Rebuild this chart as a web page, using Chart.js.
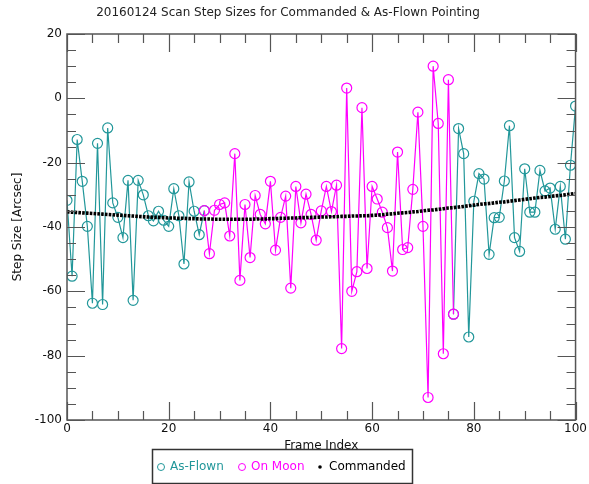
<!DOCTYPE html>
<html>
<head>
<meta charset="utf-8">
<script src="https://cdn.jsdelivr.net/npm/chart.js@4.4.1/dist/chart.umd.min.js"></script>
<style>
  html, body { margin: 0; padding: 0; background: #fff; }
</style>
</head>
<body>
<canvas id="canvas_steps" width="589" height="484"></canvas>
<script>
// frame index 0..100
const frames = Array.from({ length: 101 }, (_, i) => i);

// As-Flown, frames 0-27 and 76-100
const asFlownStartFrame = 0;
const asFlownStart = [-31.7, -55.3, -12.8, -25.8, -39.8, -63.7, -14.0, -64.1, -9.2, -32.5,
    -37.0, -43.3, -25.5, -62.8, -25.5, -30.0, -36.5, -38.1, -35.1, -37.9,
    -39.8, -28.1, -36.5, -51.5, -26.0, -35.1, -42.4, -34.9];
const asFlownEndFrame = 76;
const asFlownEnd = [-67.1, -9.4, -17.2, -74.2, -32.0, -23.4, -25.1, -48.5, -37.1, -37.0,
    -25.7, -8.5, -43.3, -47.6, -21.9, -35.4, -35.4, -22.4, -28.8, -27.9,
    -40.7, -27.4, -43.8, -20.8, -2.4];

// On Moon, frames 27-76
const onMoonFrame = 27;
const onMoon = [-34.9, -48.3, -34.8, -33.0, -32.5, -42.8, -17.2, -56.6, -33.0, -49.5,
    -30.2, -36.1, -39.0, -25.8, -47.2, -37.0, -30.4, -59.0, -27.4, -38.7,
    -29.8, -36.1, -44.1, -35.0, -27.4, -35.2, -27.0, -77.8, 3.2, -60.0,
    -53.9, -2.9, -52.9, -27.4, -31.3, -35.4, -40.2, -53.7, -16.7, -47.0,
    -46.4, -28.3, -4.3, -39.8, -93.0, 10.0, -7.8, -79.4, 5.8, -67.1];

// Commanded, one per frame
const commanded = [-35.3, -35.4, -35.5, -35.6, -35.7, -35.8, -35.9, -36.0, -36.1, -36.2,
    -36.3, -36.4, -36.5, -36.6, -36.7, -36.8, -36.9, -37.0, -37.0, -37.1,
    -37.2, -37.2, -37.3, -37.3, -37.4, -37.4, -37.5, -37.5, -37.5, -37.6,
    -37.6, -37.6, -37.6, -37.6, -37.6, -37.6, -37.6, -37.5, -37.5, -37.5,
    -37.4, -37.4, -37.3, -37.3, -37.2, -37.2, -37.1, -37.1, -37.0, -37.0,
    -36.9, -36.9, -36.8, -36.8, -36.7, -36.7, -36.6, -36.6, -36.5, -36.5,
    -36.4, -36.3, -36.2, -36.0, -35.9, -35.7, -35.6, -35.5, -35.3, -35.2,
    -35.0, -34.8, -34.7, -34.5, -34.3, -34.1, -34.0, -33.8, -33.6, -33.4,
    -33.2, -33.0, -32.8, -32.7, -32.5, -32.3, -32.2, -32.0, -31.8, -31.6,
    -31.4, -31.2, -31.0, -30.8, -30.7, -30.5, -30.3, -30.2, -30.0, -29.8, -29.6];

const yTicks = [-100, -80, -60, -40, -20, 0, 20];
const xTicks = [0, 20, 40, 60, 80, 100];

const teal = '#22979a';
const magenta = '#ff00ff';
const FONT = 'DejaVu Sans';

const toPoints = (start, vals) => vals.map((v, i) => ({ x: frames[start + i], y: v }));
const asFlownPts = toPoints(asFlownStartFrame, asFlownStart)
    .concat([{ x: 50, y: null }])
    .concat(toPoints(asFlownEndFrame, asFlownEnd));

// box, minor/major ticks on all four sides
const framePlugin = {
    id: 'frame',
    afterDraw(chart) {
        const { ctx, chartArea: a, scales: { x, y } } = chart;
        ctx.save();
        ctx.strokeStyle = '#555';
        ctx.lineWidth = 1.2;
        ctx.beginPath();
        for (let v = 0; v <= 100; v += 5) {
            const px = Math.round(x.getPixelForValue(v)) + 0.5;
            const len = v % 20 === 0 ? 18 : 9;
            ctx.moveTo(px, a.bottom); ctx.lineTo(px, a.bottom - len);
            ctx.moveTo(px, a.top); ctx.lineTo(px, a.top + len);
        }
        for (let v = -100; v <= 20; v += 5) {
            const py = Math.round(y.getPixelForValue(v)) + 0.5;
            const len = v % 20 === 0 ? 18 : 9;
            ctx.moveTo(a.left, py); ctx.lineTo(a.left + len, py);
            ctx.moveTo(a.right, py); ctx.lineTo(a.right - len, py);
        }
        ctx.stroke();
        ctx.lineWidth = 1.5;
        ctx.strokeRect(a.left, a.top, a.right - a.left, a.bottom - a.top);
        ctx.restore();
    }
};

// boxed legend under the axis title
const legendPlugin = {
    id: 'boxLegend',
    afterDraw(chart) {
        const ctx = chart.ctx;
        const items = [
            { label: 'As-Flown', color: teal, sym: 'ring', x: 161 },
            { label: 'On Moon', color: magenta, sym: 'ring', x: 242 },
            { label: 'Commanded', color: '#000', sym: 'dot', x: 320 }
        ];
        ctx.save();
        ctx.strokeStyle = '#333';
        ctx.lineWidth = 1.5;
        ctx.strokeRect(152.5, 449.5, 260, 34);
        ctx.font = '12px "' + FONT + '"';
        ctx.textBaseline = 'middle';
        const cy = 467;
        items.forEach(it => {
            ctx.strokeStyle = it.color;
            ctx.fillStyle = it.color;
            ctx.lineWidth = 1;
            ctx.beginPath();
            if (it.sym === 'ring') {
                ctx.arc(it.x, cy, 3.5, 0, Math.PI * 2);
                ctx.stroke();
            } else {
                ctx.arc(it.x, cy, 1.8, 0, Math.PI * 2);
                ctx.fill();
            }
            ctx.fillText(it.label, it.x + 9, cy);
        });
        ctx.restore();
    }
};

new Chart(document.getElementById('canvas_steps'), {
    type: 'line',
    data: {
        datasets: [
            {
                label: 'Commanded',
                data: commanded.map((v, i) => ({ x: frames[i], y: v })),
                borderColor: '#000',
                borderWidth: 3.6,
                borderDash: [2.6, 1.2],
                pointRadius: 0,
                clip: 0
            },
            {
                label: 'On Moon',
                data: toPoints(onMoonFrame, onMoon),
                borderColor: magenta,
                borderWidth: 1.2,
                pointRadius: 5,
                pointBorderWidth: 1.2,
                pointBackgroundColor: 'rgba(0,0,0,0)',
                pointBorderColor: magenta,
                clip: 0
            },
            {
                label: 'As-Flown',
                data: asFlownPts,
                borderColor: teal,
                borderWidth: 1.2,
                pointRadius: 5,
                pointBorderWidth: 1.2,
                pointBackgroundColor: 'rgba(0,0,0,0)',
                pointBorderColor: teal,
                spanGaps: false,
                clip: 0
            }
        ]
    },
    options: {
        responsive: false,
        animation: false,
        layout: { padding: { top: 0, left: 0, right: 13, bottom: 30 } },
        plugins: {
            legend: { display: false },
            tooltip: { enabled: false },
            title: {
                display: true,
                text: '20160124 Scan Step Sizes for Commanded & As-Flown Pointing',
                color: '#222',
                font: { family: FONT, size: 12, weight: 'normal' },
                padding: { top: 6, bottom: 13.6 }
            }
        },
        scales: {
            x: {
                type: 'linear',
                min: 0,
                max: 100,
                afterBuildTicks: s => { s.ticks = xTicks.map(v => ({ value: v })); },
                afterFit: s => { s.height = 34; },
                grid: { display: false, drawTicks: false },
                border: { display: false },
                ticks: { color: '#111', padding: 2, maxRotation: 0, font: { family: FONT, size: 12 } },
                title: { display: true, text: 'Frame Index', color: '#111', padding: { top: 0, bottom: 1 }, font: { family: FONT, size: 12 } }
            },
            y: {
                min: -100,
                max: 20,
                afterBuildTicks: s => { s.ticks = yTicks.map(v => ({ value: v })); },
                afterFit: s => { s.width = 67; },
                grid: { display: false, drawTicks: false },
                border: { display: false },
                ticks: { color: '#111', padding: 5, font: { family: FONT, size: 12 } },
                title: { display: true, text: 'Step Size [Arcsec]', color: '#111', padding: 11, font: { family: FONT, size: 12 } }
            }
        }
    },
    plugins: [framePlugin, legendPlugin]
});
</script>
</body>
</html>
